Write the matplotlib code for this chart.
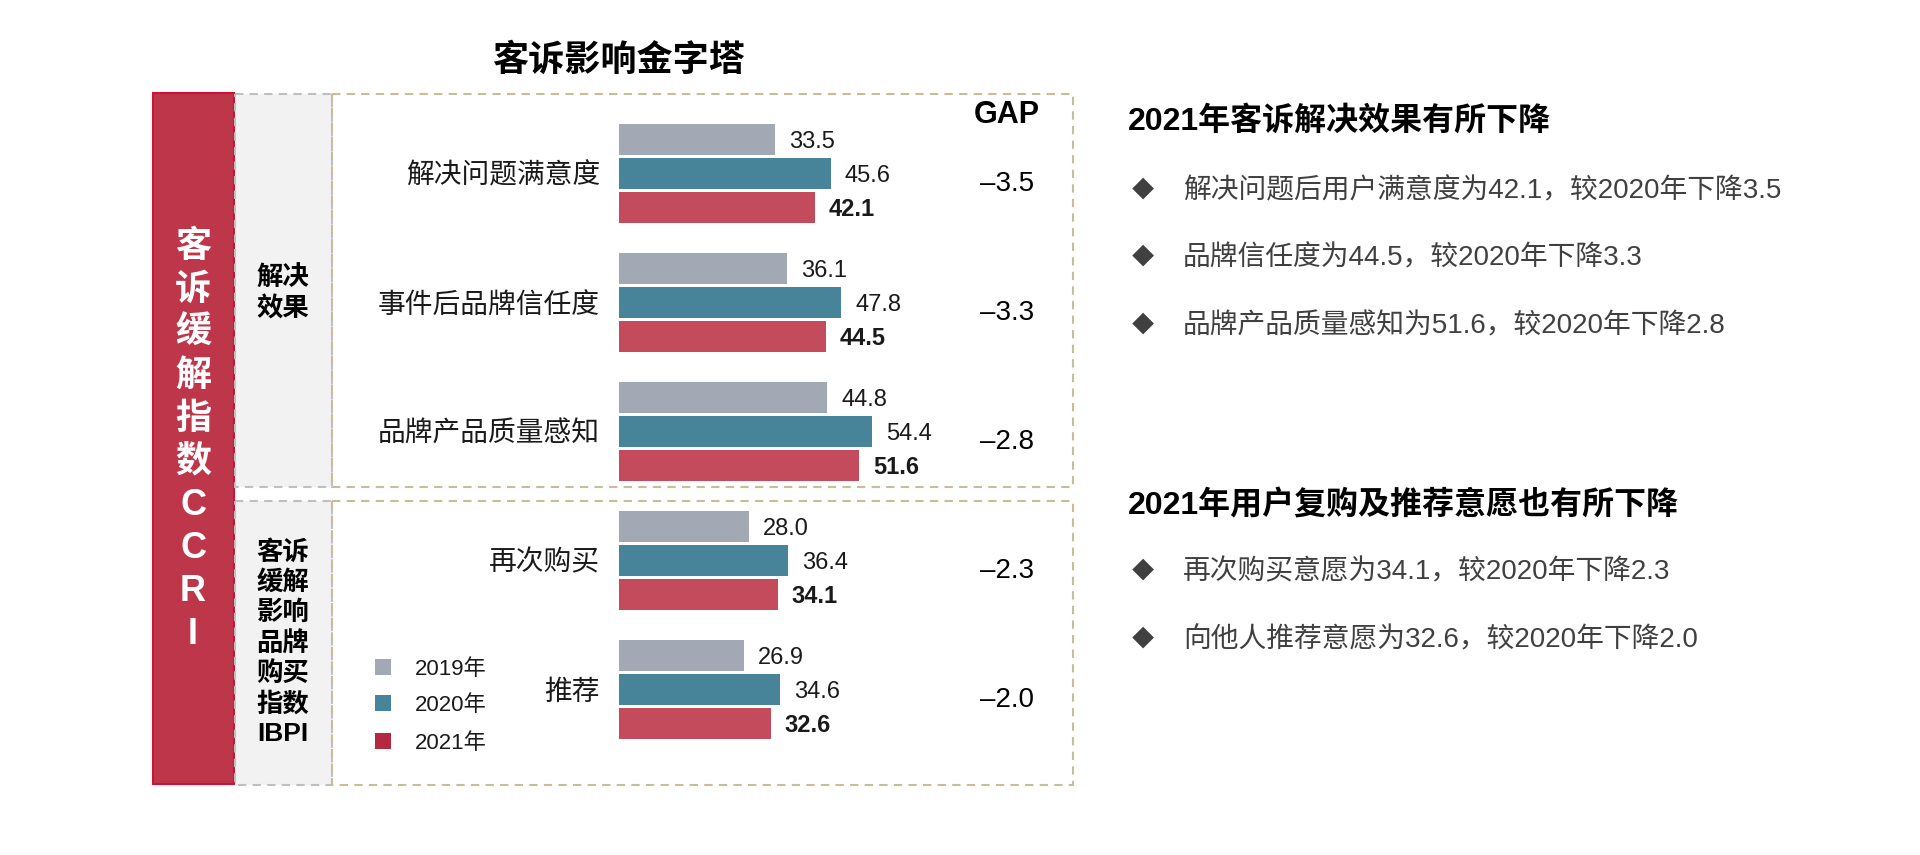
import numpy as np
import matplotlib
matplotlib.use("Agg")
import matplotlib.pyplot as plt
from matplotlib.patches import Rectangle

plt.rcParams['font.family'] = ['Liberation Sans', 'Noto Sans CJK SC', 'DejaVu Sans']

# data
categories = ['解决问题满意度', '事件后品牌信任度', '品牌产品质量感知', '再次购买', '推荐']
years = ['2019年', '2020年', '2021年']
v2019 = [33.5, 36.1, 44.8, 28.0, 26.9]
v2020 = [45.6, 47.8, 54.4, 36.4, 34.6]
v2021 = [42.1, 44.5, 51.6, 34.1, 32.6]
gap = np.round(np.array(v2021) - np.array(v2020), 1)

title = '客诉影响金字塔'
index_chars = list('客诉缓解指数') + list('CCRI')
section_labels = ['解决\n效果', '客诉\n缓解\n影响\n品牌\n购买\n指数\nIBPI']
headings = ['2021年客诉解决效果有所下降', '2021年用户复购及推荐意愿也有所下降']
bullets = [
    ['解决问题后用户满意度为42.1，较2020年下降3.5',
     '品牌信任度为44.5，较2020年下降3.3',
     '品牌产品质量感知为51.6，较2020年下降2.8'],
    ['再次购买意愿为34.1，较2020年下降2.3',
     '向他人推荐意愿为32.6，较2020年下降2.0'],
]

bar_colors = ['#A2A9B5', '#478499', '#C44B5B']
legend_colors = ['#A2A9B5', '#478499', '#B5283F']
W, H = 1920, 855

fig = plt.figure(figsize=(W / 100, H / 100), dpi=100)

# background layer in pixel coordinates (frames, side texts)
bg = fig.add_axes([0, 0, 1, 1])
bg.set_xlim(0, W)
bg.set_ylim(H, 0)
bg.axis('off')

bg.text(618, 61, title, fontsize=26, fontweight='bold', ha='center', va='center')

# left red index column
bg.add_patch(Rectangle((153, 93), 81, 691, fc='#BE3649', ec='#D0103A', lw=1.5))
for j, ch in enumerate(index_chars):
    bg.text(193, 247 + 43 * j, ch, fontsize=26, fontweight='bold', color='white',
            ha='center', va='center')

# gray section columns + tan dashed frames
dash = (0, (4, 3))
frames = [(94, 393, 294), (501, 284, 643)]
for (top, h, cy), lab in zip(frames, section_labels):
    bg.add_patch(Rectangle((235, top), 97, h, fc='#F2F2F2', ec='#BFBFBF', lw=1.5, ls=dash))
    bg.add_patch(Rectangle((332, top), 741, h, fill=False, ec='#C9BD98', lw=1.5, ls=dash))
    bg.text(283, cy, lab, fontsize=19, fontweight='bold', ha='center', va='center',
            linespacing=1.28)

# legend
for k, (yr, c) in enumerate(zip(years, legend_colors)):
    yc = [667, 703, 741][k]
    bg.add_patch(Rectangle((375, yc - 8), 16, 16, fc=c, ec='none'))
    bg.text(415, yc, yr, fontsize=16, ha='left', va='center_baseline', color='#1a1a1a')

# right commentary
for hy, head, items, by in zip([121, 506], headings, bullets, [[191, 258, 326], [572, 640]]):
    bg.text(1128, hy, head, fontsize=23, fontweight='bold', ha='left', va='center')
    for y, t in zip(by, items):
        bg.text(1143, y, '◆', fontsize=16, color='#404040', ha='center', va='center')
        bg.text(1183, y, t, fontsize=20, color='#404040', ha='left', va='center')

# bar axes
x0, x1, y0, y1 = 619, 1073, 94, 785
px_per_unit = 4.65
ax = fig.add_axes([x0 / W, 1 - y1 / H, (x1 - x0) / W, (y1 - y0) / H])
ax.set_facecolor('none')
ax.set_xlim(0, (x1 - x0) / px_per_unit)
ax.set_ylim((y1 - 173.5) / 129, (y0 - 173.5) / 129)
ax.axis('off')

y = np.arange(len(categories))
for k, vals in enumerate([v2019, v2020, v2021]):
    yy = y + (k - 1) * 0.26
    ax.barh(yy, vals, height=0.24, color=bar_colors[k])
    for yi, v in zip(yy, vals):
        ax.text(v + 3.0, yi, f'{v:.1f}', fontsize=17, va='center_baseline', ha='left',
                color='#1a1a1a', fontweight='bold' if k == 2 else 'normal')

for yi, cat, g in zip(y, categories, gap):
    ax.text(-4.1, yi, cat, fontsize=20, ha='right', va='center_baseline', color='#1a1a1a')
    ax.text(83.4, yi + 0.06, f'\u2013{abs(g):.1f}', fontsize=20, ha='center',
            va='center_baseline')

ax.text(83.4, -0.45, 'GAP', fontsize=22, fontweight='bold', ha='center', va='center')

fig.savefig('out.png', dpi=100)
